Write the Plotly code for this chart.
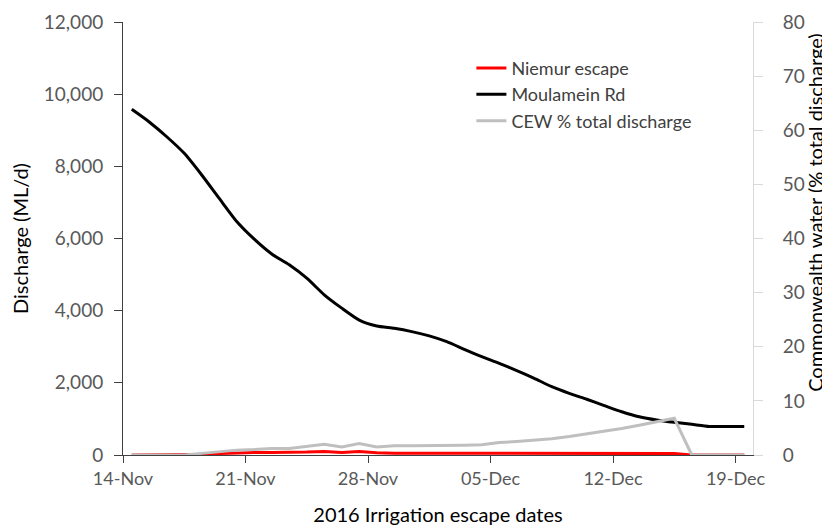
import pandas as pd
import plotly.graph_objects as go

# Daily values, 14-Nov-2016 to 19-Dec-2016
dates = pd.date_range('2016-11-14 12:00', periods=36, freq='D')

niemur_escape = [0, 0, 0, 0, 20, 40, 60, 70, 70, 70, 80, 100, 70, 100, 60, 50,
                 50, 50, 50, 45, 45, 45, 45, 45, 45, 45, 45, 45, 45, 40, 40, 40,
                 0, 0, 0, 0]

moulamein_rd = [9580, 9230, 8820, 8360, 7760, 7110, 6470, 5980, 5570, 5270,
                4900, 4440, 4070, 3740, 3575, 3510, 3420, 3300, 3140, 2930,
                2725, 2540, 2340, 2125, 1895, 1710, 1545, 1370, 1200, 1060,
                970, 905, 850, 790, 790, 790]

cew_pct = [0, 0, 0, 0, 0.3, 0.6, 0.9, 1.0, 1.2, 1.2, 1.6, 2.0, 1.5, 2.1, 1.5,
           1.7, 1.7, 1.7, 1.8, 1.8, 1.9, 2.3, 2.5, 2.7, 3.0, 3.4, 3.9, 4.3,
           4.9, 5.5, 6.2, 6.8, 0, 0, 0, 0]

font_family = 'Lato, Open Sans, sans-serif'
tick_grey = '#595959'

fig = go.Figure()

fig.add_trace(go.Scatter(x=dates, y=niemur_escape, name='Niemur escape',
                         mode='lines', line=dict(color='#ff0000', width=3)))
fig.add_trace(go.Scatter(x=dates, y=moulamein_rd, name='Moulamein Rd',
                         mode='lines', line=dict(color='#000000', width=3, shape='spline', smoothing=0.6)))
fig.add_trace(go.Scatter(x=dates, y=cew_pct, name='CEW % total discharge', yaxis='y2',
                         mode='lines', line=dict(color='#bfbfbf', width=3)))

# the page body adds an 8px offset, margins are set to allow for it
fig.update_layout(
    width=830,
    height=530,
    margin=dict(l=115, r=85, t=14, b=83),
    plot_bgcolor='white',
    paper_bgcolor='white',
    font=dict(family=font_family, size=19, color=tick_grey),
    showlegend=True,
    legend=dict(x=0.553, y=0.936, xanchor='left', yanchor='top',
                bgcolor='rgba(0,0,0,0)', font=dict(size=18, color='#404040'),
                tracegroupgap=0),
    xaxis=dict(
        type='date',
        range=['2016-11-14', '2016-12-20'],
        tick0='2016-11-14',
        dtick=7 * 86400000,
        tickformat='%d-%b',
        showgrid=False,
        showline=True, linecolor='#404040', linewidth=1,
        ticks='outside', ticklen=7, tickcolor='#404040',
        tickfont=dict(size=18, color=tick_grey),
        title=dict(text='2016 Irrigation escape dates', font=dict(size=20, color='#000000'), standoff=20),
        zeroline=False,
        automargin=False,
    ),
    yaxis=dict(
        range=[0, 12000],
        dtick=2000,
        tickformat=',',
        showgrid=False,
        showline=True, linecolor='#404040', linewidth=1,
        ticks='outside', ticklen=8, tickcolor='#404040',
        ticklabelstandoff=7,
        tickfont=dict(size=19, color=tick_grey),
        title=dict(text='Discharge (ML/d)', font=dict(size=20, color='#000000'), standoff=21),
        zeroline=False,
        automargin=False,
    ),
    yaxis2=dict(
        range=[0, 80],
        dtick=10,
        overlaying='y',
        side='right',
        showgrid=False,
        showline=True, linecolor='#d9d9d9', linewidth=1,
        ticks='outside', ticklen=9, tickcolor='#d9d9d9',
        ticklabelstandoff=16,
        tickfont=dict(size=19, color=tick_grey),
        zeroline=False,
        automargin=False,
    ),
)

# right axis title sits a little above the middle of the axis in the original
fig.add_annotation(
    text='Commonwealth water (% total discharge)',
    xref='paper', yref='paper', x=1.098, y=0.561,
    xanchor='center', yanchor='middle', textangle=-90, showarrow=False,
    font=dict(size=20, color='#000000'),
)

fig.write_html('out.html')
